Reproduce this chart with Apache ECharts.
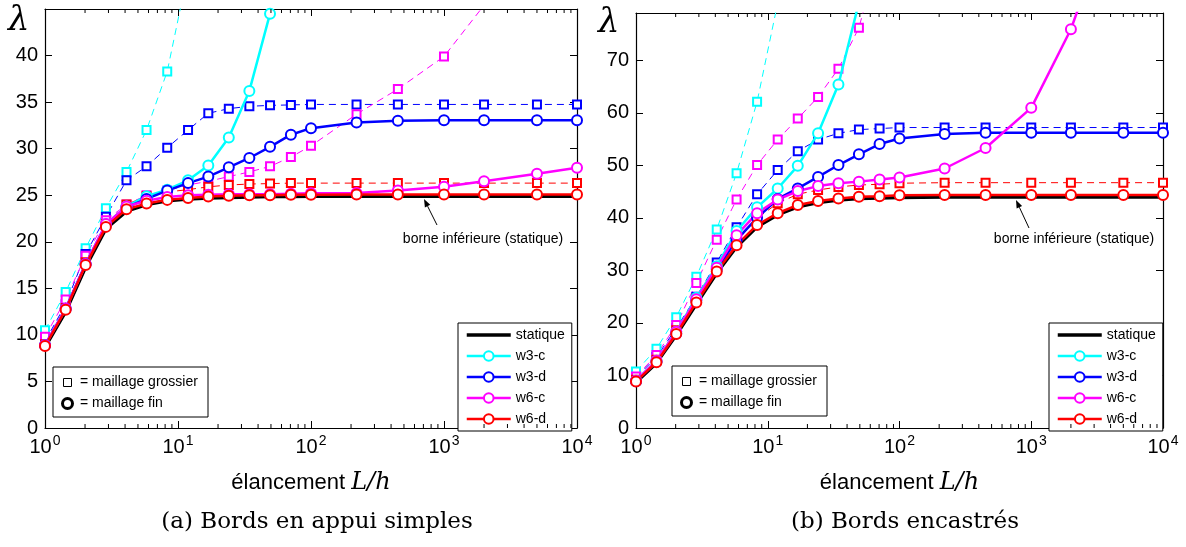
<!DOCTYPE html>
<html><head><meta charset="utf-8">
<script src="https://cdn.jsdelivr.net/npm/echarts@6/dist/echarts.min.js"></script>
<style>html,body{margin:0;padding:0;background:#fff}#c{width:1186px;height:547px}</style>
</head><body><div id="c"></div>
<script>
// ---------- data ----------
const xValues = [1, 1.43, 2.02, 2.87, 4.1, 5.8, 8.3, 11.9, 16.9, 24.1, 34.4, 49.2, 70.6, 100, 220, 450, 1000, 2000, 5000, 10000];
const xTickValues = [1, 10, 100, 1000, 10000];
const seriesNames = ['statique', 'w3-c', 'w3-d', 'w6-c', 'w6-d'];

// (a) Bords en appui simples
const statiqueA   = [8.7, 12.5, 17.3, 21.4, 23.3, 24.0, 24.4, 24.6, 24.7, 24.75, 24.8, 24.85, 24.85, 24.9, 24.9, 24.9, 24.9, 24.9, 24.9, 24.9];
const w3cFineA    = [8.9, 12.8, 17.6, 21.9, 23.8, 24.9, 25.6, 26.6, 28.2, 31.2, 36.2, 44.5, null, null, null, null, null, null, null, null];
const w3dFineA    = [8.9, 12.8, 17.6, 21.8, 23.7, 24.6, 25.5, 26.3, 27.0, 28.0, 29.0, 30.2, 31.5, 32.2, 32.8, 33.0, 33.05, 33.05, 33.05, 33.05];
const w6cFineA    = [8.9, 12.8, 17.6, 21.9, 23.8, 24.4, 24.8, 25.0, 25.05, 25.1, 25.1, 25.1, 25.15, 25.2, 25.25, 25.5, 25.9, 26.5, 27.3, 27.95];
const w6dFineA    = [8.8, 12.7, 17.5, 21.6, 23.5, 24.1, 24.5, 24.7, 24.85, 24.95, 25.0, 25.0, 25.05, 25.05, 25.08, 25.08, 25.08, 25.08, 25.08, 25.08];
const w3cCoarseA  = [10.5, 14.6, 19.3, 23.6, 27.5, 32.0, 38.3, 49.0, null, null, null, null, null, null, null, null, null, null, null, null];
const w3dCoarseA  = [9.3, 13.3, 18.7, 22.7, 26.6, 28.1, 30.1, 32.0, 33.8, 34.3, 34.55, 34.65, 34.7, 34.75, 34.75, 34.75, 34.75, 34.75, 34.75, 34.75];
const w6cCoarseA  = [9.8, 13.8, 18.5, 22.3, 24.0, 25.0, 25.5, 26.1, 26.5, 27.0, 27.5, 28.1, 29.1, 30.3, 33.7, 36.4, 39.9, 45.4, null, null];
const w6dCoarseA  = [9.0, 12.9, 17.8, 21.9, 24.0, 24.9, 25.35, 25.6, 25.9, 26.1, 26.2, 26.25, 26.3, 26.3, 26.3, 26.3, 26.3, 26.3, 26.3, 26.3];

// (b) Bords encastrés
const statiqueB   = [8.7, 12.4, 17.7, 23.6, 29.5, 34.5, 38.3, 40.6, 42.1, 42.9, 43.4, 43.7, 43.8, 43.9, 43.95, 43.95, 43.95, 43.95, 43.95, 43.95];
const w3cFineB    = [9.0, 12.8, 18.3, 24.8, 30.8, 37.5, 42.0, 45.6, 49.9, 56.1, 65.4, 81.0, null, null, null, null, null, null, null, null];
const w3dFineB    = [8.9, 12.6, 18.0, 24.3, 30.2, 35.8, 40.0, 43.6, 45.6, 47.8, 50.06, 52.1, 54.05, 55.1, 55.95, 56.2, 56.2, 56.2, 56.2, 56.2];
const w6cFineB    = [9.0, 12.8, 18.3, 24.5, 30.5, 36.7, 40.9, 43.5, 45.1, 46.05, 46.6, 46.9, 47.3, 47.7, 49.4, 53.3, 60.95, 75.9, 104, null];
const w6dFineB    = [8.86, 12.5, 17.9, 23.9, 29.8, 34.8, 38.65, 40.9, 42.45, 43.2, 43.7, 44.0, 44.1, 44.3, 44.35, 44.35, 44.35, 44.35, 44.35, 44.35];
const w3cCoarseB  = [10.76, 15.1, 21.1, 28.8, 37.8, 48.5, 62.1, 80.9, null, null, null, null, null, null, null, null, null, null, null, null];
const w3dCoarseB  = [9.6, 13.5, 19.0, 25.0, 31.5, 38.2, 44.5, 49.1, 52.7, 54.9, 56.1, 56.8, 57.0, 57.2, 57.2, 57.2, 57.2, 57.2, 57.2, 57.2];
const w6cCoarseB  = [9.8, 13.9, 19.6, 27.6, 35.85, 43.5, 50.06, 54.9, 58.9, 63.0, 68.4, 76.2, 90.7, null, null, null, null, null, null, null];
const w6dCoarseB  = [9.2, 13.0, 18.6, 24.6, 30.5, 35.5, 39.9, 42.8, 44.5, 45.3, 45.9, 46.25, 46.4, 46.6, 46.7, 46.7, 46.7, 46.7, 46.7, 46.7];

const yMaxA = 45, yStepA = 5;
const yMaxB = 79, yStepB = 10;

// ---------- styling / building ----------
const SANS = '"Liberation Sans", Arial, Helvetica, sans-serif';
const SERIF = '"DejaVu Serif", "Liberation Serif", serif';
const COLORS = { 'w3-c': '#00ffff', 'w3-d': '#0000ff', 'w6-c': '#ff00ff', 'w6-d': '#ff0000' };

const minorTicks = [];
for (let e = 0; e < 4; e++) for (let k = 2; k <= 9; k++) minorTicks.push(k * Math.pow(10, e));

function pts(arr) { return xValues.map((x, i) => [x, arr[i]]); }

function statiqueSeries(arr, xi, yi) {
  return { type: 'line', name: 'statique', xAxisIndex: xi, yAxisIndex: yi, data: pts(arr),
    symbol: 'none', lineStyle: { color: '#000', width: 3.5 }, itemStyle: { color: '#000' }, silent: true, z: 2 };
}
function coarseSeries(name, arr, xi, yi) {
  const c = COLORS[name];
  return { type: 'line', name: name + ' (maillage grossier)', xAxisIndex: xi, yAxisIndex: yi, data: pts(arr),
    symbol: 'emptyRect', symbolSize: 8, showAllSymbol: true,
    lineStyle: { color: c, width: 1, type: [7, 5] }, itemStyle: { color: c, borderColor: c, borderWidth: 1 },
    clip: true, silent: true, z: 3 };
}
function fineSeries(name, arr, xi, yi) {
  const c = COLORS[name];
  return { type: 'line', name: name, xAxisIndex: xi, yAxisIndex: yi, data: pts(arr),
    symbol: 'emptyCircle', symbolSize: 10, showAllSymbol: true,
    lineStyle: { color: c, width: 2.5 }, itemStyle: { color: c, borderColor: c, borderWidth: 2.3 },
    clip: true, silent: true, z: 4 };
}
function minorTickSeries(xi, yi, ymax) {
  return { type: 'custom', xAxisIndex: xi, yAxisIndex: yi, silent: true, z: 5,
    data: minorTicks.map(v => [v, 0]), encode: { x: 0, y: 1 },
    renderItem: (params, api) => {
      const b = api.coord([api.value(0), 0]);
      const t = api.coord([api.value(0), ymax]);
      const st = { stroke: '#000', lineWidth: 1 };
      return { type: 'group', children: [
        { type: 'line', shape: { x1: b[0], y1: b[1], x2: b[0], y2: b[1] - 4 }, style: st },
        { type: 'line', shape: { x1: t[0], y1: t[1], x2: t[0], y2: t[1] + 4 }, style: st }
      ] };
    } };
}

const tickLbl = v => '{b|10}{s|' + Math.round(Math.log10(v)) + '}';
function xAxes(gi) {
  const common = { type: 'log', logBase: 10, min: 1, max: 10000, gridIndex: gi,
    axisLine: { show: true, onZero: false, lineStyle: { color: '#000', width: 1.2 } },
    axisTick: { show: true, inside: true, length: 7, lineStyle: { color: '#000' } },
    splitLine: { show: false }, minorTick: { show: false } };
  return [
    Object.assign({}, common, { position: 'bottom',
      axisLabel: { margin: 6, formatter: tickLbl, rich: {
        b: { fontSize: 20, fontFamily: SANS, color: '#000', lineHeight: 26 },
        s: { fontSize: 14, fontFamily: SANS, color: '#000', lineHeight: 14, verticalAlign: 'top', padding: [0, 0, 0, 1] } } },
      name: '{n|élancement }{i|L/h}', nameLocation: 'middle', nameGap: 43,
      nameTextStyle: { rich: {
        n: { fontSize: 22, fontFamily: SANS, color: '#000' },
        i: { fontSize: 24, fontFamily: SERIF, fontStyle: 'italic', color: '#000' } } } }),
    Object.assign({}, common, { position: 'top', axisLabel: { show: false } })
  ];
}
function yAxes(gi, ymax, step) {
  const common = { type: 'value', min: 0, max: ymax, interval: step, gridIndex: gi,
    axisLine: { show: true, onZero: false, lineStyle: { color: '#000', width: 1.2 } },
    axisTick: { show: true, inside: true, length: 7, lineStyle: { color: '#000' } },
    splitLine: { show: false } };
  return [
    Object.assign({}, common, { position: 'left',
      axisLabel: { margin: 7, fontSize: 20, fontFamily: SANS, color: '#000',
        formatter: v => (v % step === 0 && v < ymax - 0.01) ? String(v) : '' } }),
    Object.assign({}, common, { position: 'right', axisLabel: { show: false } })
  ];
}

function legend(left) {
  return { show: true,
    data: seriesNames.map(n => n === 'statique' ? { name: n, itemStyle: { opacity: 0 } } : { name: n }),
    orient: 'vertical', left: left, top: 323,
    itemWidth: 44, itemHeight: 12, itemGap: 7, padding: [5, 7, 5, 7],
    lineStyle: { width: 'inherit' },
    borderColor: '#000', borderWidth: 1, backgroundColor: '#fff', selectedMode: false,
    textStyle: { fontSize: 14, fontFamily: SANS, color: '#000' } };
}

function arrowGraphic(tail, tip) {
  const dx = tip[0] - tail[0], dy = tip[1] - tail[1];
  const L = Math.hypot(dx, dy), ux = dx / L, uy = dy / L, nx = -uy, ny = ux;
  const hl = 8, hw = 3;
  const bx = tip[0] - ux * hl, by = tip[1] - uy * hl;
  return [
    { type: 'line', shape: { x1: tail[0], y1: tail[1], x2: bx, y2: by }, style: { stroke: '#000', lineWidth: 1 }, z: 10 },
    { type: 'polygon', shape: { points: [tip, [bx + nx * hw, by + ny * hw], [bx - nx * hw, by - ny * hw]] }, style: { fill: '#000' }, z: 10 }
  ];
}
function meshLegend(x, y) {
  return [
    { type: 'rect', shape: { x: x, y: y, width: 155, height: 50 }, style: { fill: '#fff', stroke: '#000', lineWidth: 1 }, z: 10 },
    { type: 'rect', shape: { x: x + 10.5, y: y + 11.5, width: 8, height: 8 }, style: { fill: '#fff', stroke: '#000', lineWidth: 1 }, z: 11 },
    { type: 'circle', shape: { cx: x + 14.5, cy: y + 36.5, r: 5 }, style: { fill: '#fff', stroke: '#000', lineWidth: 3 }, z: 11 },
    { type: 'text', x: x + 27, y: y + 15.5, style: { text: '= maillage grossier', fontSize: 14, fontFamily: SANS, fill: '#000', verticalAlign: 'middle' }, z: 11 },
    { type: 'text', x: x + 27, y: y + 36.5, style: { text: '= maillage fin', fontSize: 14, fontFamily: SANS, fill: '#000', verticalAlign: 'middle' }, z: 11 }
  ];
}
function annot(cx, cy) {
  return { type: 'text', x: cx, y: cy, style: { text: 'borne inférieure (statique)', fontSize: 14, fontFamily: SANS, fill: '#000', align: 'center', verticalAlign: 'middle' }, z: 10 };
}
function lambda(x, y) {
  return { type: 'text', x: x, y: y, style: { text: 'λ', fontSize: 34, fontFamily: SERIF, fontStyle: 'italic', fill: '#000', verticalAlign: 'top' }, z: 10 };
}

const chart = echarts.init(document.getElementById('c'), null, { renderer: 'canvas' });
const series = [
  statiqueSeries(statiqueA, 0, 0),
  coarseSeries('w3-c', w3cCoarseA, 0, 0), coarseSeries('w3-d', w3dCoarseA, 0, 0),
  coarseSeries('w6-c', w6cCoarseA, 0, 0), coarseSeries('w6-d', w6dCoarseA, 0, 0),
  fineSeries('w3-c', w3cFineA, 0, 0), fineSeries('w3-d', w3dFineA, 0, 0),
  fineSeries('w6-c', w6cFineA, 0, 0), fineSeries('w6-d', w6dFineA, 0, 0),
  minorTickSeries(0, 0, yMaxA),
  statiqueSeries(statiqueB, 2, 2),
  coarseSeries('w3-c', w3cCoarseB, 2, 2), coarseSeries('w3-d', w3dCoarseB, 2, 2),
  coarseSeries('w6-c', w6cCoarseB, 2, 2), coarseSeries('w6-d', w6dCoarseB, 2, 2),
  fineSeries('w3-c', w3cFineB, 2, 2), fineSeries('w3-d', w3dFineB, 2, 2),
  fineSeries('w6-c', w6cFineB, 2, 2), fineSeries('w6-d', w6dFineB, 2, 2),
  minorTickSeries(2, 2, yMaxB)
];

chart.setOption({
  animation: false,
  backgroundColor: '#fff',
  title: [
    { text: '(a) Bords en appui simples', left: 312, top: 506, textAlign: 'center',
      textStyle: { fontSize: 23, fontWeight: 'normal', fontFamily: SERIF, color: '#000' } },
    { text: '(b) Bords encastrés', left: 900, top: 506, textAlign: 'center',
      textStyle: { fontSize: 23, fontWeight: 'normal', fontFamily: SERIF, color: '#000' } }
  ],
  grid: [
    { left: 45, top: 9, width: 532, height: 419, containLabel: false, outerBoundsMode: 'none' },
    { left: 636, top: 13, width: 527, height: 415, containLabel: false, outerBoundsMode: 'none' }
  ],
  xAxis: [].concat(xAxes(0), xAxes(1)),
  yAxis: [].concat(yAxes(0, yMaxA, yStepA), yAxes(1, yMaxB, yStepB)),
  legend: [legend(458), legend(1049)],
  graphic: [].concat(
    meshLegend(53, 367), meshLegend(672, 366),
    [annot(483, 239), annot(1074, 239)],
    arrowGraphic([437, 225], [424, 199]), arrowGraphic([1029, 228], [1016, 200]),
    [lambda(8, 4), lambda(598, 6)]
  ),
  series: series
});
</script>
</body></html>
